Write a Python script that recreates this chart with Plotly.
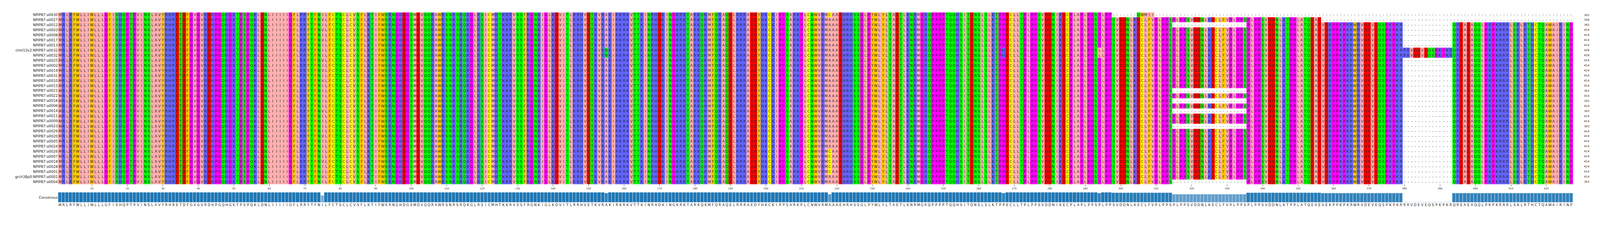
import plotly.graph_objects as go

# Sequence names, top to bottom
names = ['NPIPB7:a0030', 'NPIPB7:a0027', 'NPIPB7:a0012', 'NPIPB7:a0003', 'NPIPB7:a0008',
         'NPIPB7:a0017', 'NPIPB7:a0013', 'chm13v2:NPIPB7:a0032', 'NPIPB7:a0032', 'NPIPB7:a0025',
         'NPIPB7:a0002', 'NPIPB7:a0019', 'NPIPB7:a0031', 'NPIPB7:a0010', 'NPIPB7:a0015',
         'NPIPB7:a0021', 'NPIPB7:a0022', 'NPIPB7:a0016', 'NPIPB7:a0006', 'NPIPB7:a0014',
         'NPIPB7:a0011', 'NPIPB7:a0009', 'NPIPB7:a0023', 'NPIPB7:a0029', 'NPIPB7:a0020',
         'NPIPB7:a0005', 'NPIPB7:a0024', 'NPIPB7:a0026', 'NPIPB7:a0007', 'NPIPB7:a0018',
         'NPIPB7:a0028', 'NPIPB7:a0001', 'grch38p0:NPIPB7:a0001', 'NPIPB7:a0004']

# Consensus sequence, read in chunks
consensus = ("MRLRFWLLIWLLLGFISHQPTPVINSLAVYRHRETDFGVGVRDHPGQHGKTPSPQKLDNLII"
             "IIIGFLRRYTFNILFCTSCLCVSFLKTIFWSRNGHDGSMDVQQRAWRSNRSRQKGLRSICM"
             "HTKKRVSSFRGNKIGLKDVITLRRHVETKVRAKIRKRKVTTKINRHDKINGKRKTARKQKMF"
             "QRAQELRRRAEDYHKCKIPPSARKPLCNWVRMAAAEHRHSSGLPYWLYLTAETLKNRMGRQ"
             "PPPPTQQHSITDNSLSLKTPPECLLTPLPPSVDDNIKECPLAPLPPSPLPPSVDDNLKECLF"
             "VPLPPSPLPPSVDDNLKECLFVPLPPSPLPPSVDDNLKTPPLATQEAEVEKPPKPKRWRVD"
             "EVEQSPKPKRRRVDEVEQSPKPKRQREAEAQQLPKPKRRRLSKLRTHCTQAWAIRINP")

# Column blocks (1-based, inclusive)
insert_cols = (380, 393)      # only present in rows 8, 9
repeat_gap_cols = (315, 335)  # missing in some rows
insert_rows = [8, 9]
repeat_gap_rows = [3, 16, 18, 20, 23, 34]
a0030_tail = 'QWMII'          # row 1: ends at col 297, QWMII at 305-309
a0027_end = 356               # row 2 ends here

# Point differences from consensus: (column, rows, residue)
variants = [(75, [2, 4, 6, 10, 12, 14, 20, 25, 30, 33], 'V'),
            (155, [8, 9], 'N'),
            (218, [1, 28, 29, 30, 31, 32], 'C'),
            (223, [20, 21, 22, 24], 'R'),
            (267, [8, 9], 'H'),
            (294, [8, 9], 'L')]

# Residue counts shown at right
lengths = [302, 356, 393, 414, 414, 414, 414, 428, 428, 414, 414, 414, 414, 414, 414,
           393, 414, 393, 414, 393, 414, 414, 393, 414, 414, 414, 414, 414, 414, 414,
           414, 414, 414, 393]

# Zappo colour groups
groups = {'ILVAM': '#ffafaf', 'KRH': '#6464ff', 'FWY': '#ffc800', 'GP': '#ff00ff',
          'STNQ': '#00ff00', 'DE': '#ff0000', 'C': '#ffff00'}

ncol = len(consensus)

# Build rows
rows = []
for r in range(1, len(names) + 1):
    seq = list(consensus)
    if r not in insert_rows:
        for c in range(insert_cols[0], insert_cols[1] + 1):
            seq[c - 1] = '-'
    if r in repeat_gap_rows:
        for c in range(repeat_gap_cols[0], repeat_gap_cols[1] + 1):
            seq[c - 1] = '-'
    for col, vrows, aa in variants:
        if r in vrows:
            seq[col - 1] = aa
    if r == 1:
        seq = seq[:297] + ['-'] * 7 + list(a0030_tail) + ['-'] * (ncol - 309)
    if r == 2:
        seq = seq[:a0027_end] + ['-'] * (ncol - a0027_end)
    rows.append(seq)

# Colour codes
code_of = {'-': 0}
colors = ['#ffffff']
for i, (letters, col) in enumerate(groups.items()):
    colors.append(col)
    for ch in letters:
        code_of[ch] = i + 1
z = [[code_of[ch] for ch in seq] for seq in rows]
n = len(colors)
colorscale = []
for i, col in enumerate(colors):
    colorscale += [[i / n, col], [(i + 1) / n, col]]

# Conservation per column
cons = []
for c in range(ncol):
    same = sum(1 for seq in rows if seq[c] == consensus[c])
    cons.append(same / len(rows))

cols = list(range(1, ncol + 1))
fig = go.Figure()

fig.add_trace(go.Heatmap(
    z=z, x=cols, y=list(range(len(names))), text=rows, texttemplate='%{text}',
    textfont=dict(size=9, color='#222222', family='DejaVu Sans'),
    colorscale=colorscale, zmin=0, zmax=n, showscale=False, hoverinfo='skip'))

fig.add_trace(go.Bar(
    x=cols, y=cons, xaxis='x2', yaxis='y2', width=1,
    marker=dict(color=cons, colorscale=[[0, '#ffffff'], [0.7, '#7fb0d6'], [1, '#1f77b4']],
                cmin=0, cmax=1, line=dict(color='#d8e6f2', width=1)),
    hoverinfo='skip'))

# Invisible trace carrying the right-hand axis
fig.add_trace(go.Scatter(x=[None], y=[None], yaxis='y3', showlegend=False))

# sized to what the page actually shows
fig.update_layout(
    width=4079, height=547, showlegend=False,
    margin=dict(l=141, r=60, t=0, b=0),
    plot_bgcolor='white', paper_bgcolor='white',
    font=dict(family='DejaVu Sans', color='#222222'),
    xaxis=dict(range=[0.5, ncol + 0.5], anchor='y', tickvals=list(range(10, ncol + 1, 10)),
               ticks='outside', ticklen=4, tickfont=dict(size=6.3), tickangle=0,
               showgrid=False, zeroline=False, showline=False),
    yaxis=dict(domain=[0.1517, 0.957], range=[len(names) - 0.5, -0.5],
               tickvals=list(range(len(names))), ticktext=names, tickfont=dict(size=9),
               showgrid=False, zeroline=False, ticks=''),
    xaxis2=dict(matches='x', anchor='y2', tickvals=cols, ticktext=list(consensus),
                tickfont=dict(size=8.6), tickangle=0, ticks='', showgrid=False,
                zeroline=False),
    yaxis2=dict(domain=[0.066, 0.1137], range=[0, 1], anchor='x2',
                tickvals=[0.5], ticktext=['Consensus'], tickfont=dict(size=9),
                showgrid=False, zeroline=False, ticks=''),
    yaxis3=dict(overlaying='y', side='right', range=[len(names) - 0.5, -0.5],
                tickvals=list(range(len(names))), ticktext=[str(v) for v in lengths],
                tickfont=dict(size=7.2), showgrid=False, zeroline=False, ticks='',
                ticklabelstandoff=27),
    bargap=0,
)

fig.write_html("out.html")
